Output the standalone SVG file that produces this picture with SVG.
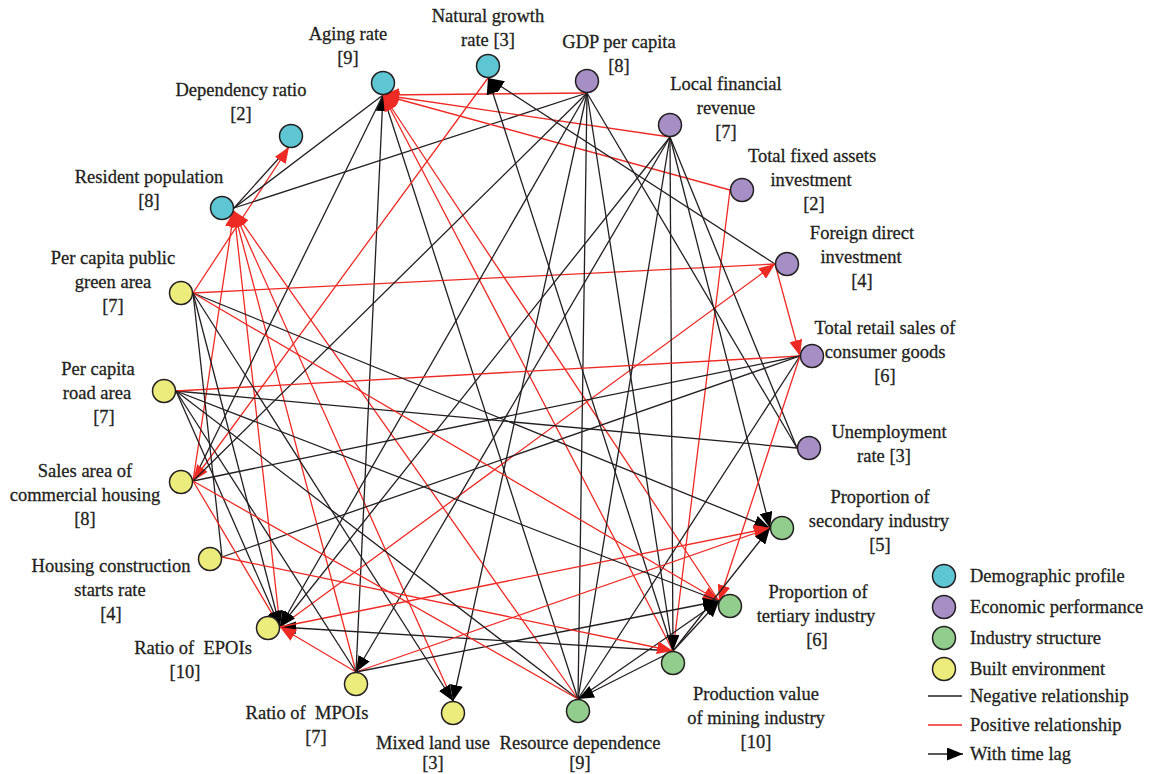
<svg xmlns="http://www.w3.org/2000/svg" width="1150" height="774" viewBox="0 0 1150 774">
  <style>
    .lbl { font-family: "Liberation Serif", "Times New Roman", serif; font-size: 18.5px; fill: #231f20; stroke: #231f20; stroke-width: 0.3; text-anchor: middle; white-space: pre; }
    .leg { font-family: "Liberation Serif", "Times New Roman", serif; font-size: 18.5px; fill: #231f20; stroke: #231f20; stroke-width: 0.3; }
    .neg { stroke: #231f20; stroke-width: 1.3; fill: none; }
    .pos { stroke: #ee2a24; stroke-width: 1.3; fill: none; }
    .nd { stroke: #231f20; stroke-width: 1.5; }
    .demo { fill: #5ec6d3; }
    .econ { fill: #a58fc5; }
    .ind { fill: #93cd8d; }
    .built { fill: #ecec7c; }
  </style>
  <defs>
    <marker id="ab" markerUnits="userSpaceOnUse" markerWidth="17" markerHeight="13" refX="16" refY="6.5" orient="auto">
      <path d="M0,0 L16,6.5 L0,13 Z" fill="#000"/>
    </marker>
    <marker id="ar" markerUnits="userSpaceOnUse" markerWidth="17" markerHeight="13" refX="16" refY="6.5" orient="auto">
      <path d="M0,0 L16,6.5 L0,13 Z" fill="#ee2a24"/>
    </marker>
  </defs>
  <rect width="1150" height="774" fill="#fff"/>

  <!-- connectors: black = negative, red = positive, arrowhead = time lag -->
  <g id="connectors">
    <line class="neg" x1="234" y1="208" x2="289" y2="147"/>
    <line class="pos" x1="193" y1="293" x2="289" y2="147" marker-end="url(#ar)"/>
    <line class="neg" x1="234" y1="208" x2="383" y2="95"/>
    <line class="neg" x1="234" y1="208" x2="587" y2="93"/>
    <line class="pos" x1="193" y1="481" x2="234" y2="211" marker-end="url(#ar)"/>
    <line class="pos" x1="280" y1="627" x2="234" y2="211" marker-end="url(#ar)"/>
    <line class="pos" x1="356" y1="672" x2="234" y2="211" marker-end="url(#ar)"/>
    <line class="pos" x1="453" y1="701" x2="234" y2="211" marker-end="url(#ar)"/>
    <line class="pos" x1="578" y1="699" x2="234" y2="211" marker-end="url(#ar)"/>
    <line class="pos" x1="587" y1="93" x2="383" y2="95" marker-end="url(#ar)"/>
    <line class="pos" x1="670" y1="137" x2="383" y2="95" marker-end="url(#ar)"/>
    <line class="pos" x1="730" y1="190" x2="383" y2="95" marker-end="url(#ar)"/>
    <line class="neg" x1="356" y1="672" x2="383" y2="95" marker-end="url(#ab)"/>
    <line class="neg" x1="383" y1="95" x2="193" y2="481"/>
    <line class="neg" x1="383" y1="95" x2="578" y2="699"/>
    <line class="pos" x1="719" y1="601" x2="383" y2="95" marker-end="url(#ar)"/>
    <line class="pos" x1="673" y1="651" x2="383" y2="95" marker-end="url(#ar)"/>
    <line class="pos" x1="730" y1="190" x2="673" y2="651"/>
    <line class="neg" x1="775" y1="264" x2="488" y2="78" marker-end="url(#ab)"/>
    <line class="pos" x1="193" y1="293" x2="775" y2="264"/>
    <line class="pos" x1="280" y1="627" x2="775" y2="264" marker-end="url(#ar)"/>
    <line class="pos" x1="775" y1="264" x2="800" y2="356" marker-end="url(#ar)"/>
    <line class="neg" x1="673" y1="651" x2="488" y2="78" marker-end="url(#ab)"/>
    <line class="pos" x1="488" y1="78" x2="193" y2="481" marker-end="url(#ar)"/>
    <line class="neg" x1="587" y1="93" x2="797" y2="448"/>
    <line class="neg" x1="670" y1="137" x2="797" y2="448"/>
    <line class="neg" x1="176" y1="391" x2="797" y2="448"/>
    <line class="neg" x1="587" y1="93" x2="193" y2="481"/>
    <line class="neg" x1="587" y1="93" x2="280" y2="627" marker-end="url(#ab)"/>
    <line class="neg" x1="587" y1="93" x2="453" y2="701" marker-end="url(#ab)"/>
    <line class="neg" x1="587" y1="93" x2="578" y2="699"/>
    <line class="neg" x1="587" y1="93" x2="673" y2="651"/>
    <line class="neg" x1="670" y1="137" x2="280" y2="627" marker-end="url(#ab)"/>
    <line class="neg" x1="670" y1="137" x2="356" y2="672" marker-end="url(#ab)"/>
    <line class="neg" x1="670" y1="137" x2="578" y2="699"/>
    <line class="neg" x1="670" y1="137" x2="673" y2="651" marker-end="url(#ab)"/>
    <line class="neg" x1="670" y1="137" x2="770" y2="528" marker-end="url(#ab)"/>
    <line class="pos" x1="176" y1="391" x2="800" y2="356"/>
    <line class="neg" x1="193" y1="481" x2="800" y2="356"/>
    <line class="neg" x1="222" y1="557" x2="800" y2="356"/>
    <line class="neg" x1="800" y1="356" x2="578" y2="699"/>
    <line class="pos" x1="800" y1="356" x2="719" y2="601" marker-end="url(#ar)"/>
    <line class="neg" x1="193" y1="293" x2="770" y2="528" marker-end="url(#ab)"/>
    <line class="pos" x1="193" y1="293" x2="719" y2="601" marker-end="url(#ar)"/>
    <line class="neg" x1="193" y1="293" x2="280" y2="627" marker-end="url(#ab)"/>
    <line class="neg" x1="193" y1="293" x2="222" y2="557"/>
    <line class="neg" x1="193" y1="293" x2="453" y2="701" marker-end="url(#ab)"/>
    <line class="pos" x1="193" y1="481" x2="280" y2="627"/>
    <line class="neg" x1="176" y1="391" x2="280" y2="627" marker-end="url(#ab)"/>
    <line class="neg" x1="673" y1="651" x2="280" y2="627" marker-end="url(#ab)"/>
    <line class="pos" x1="356" y1="672" x2="280" y2="627" marker-end="url(#ar)"/>
    <line class="pos" x1="280" y1="627" x2="770" y2="528" marker-end="url(#ar)"/>
    <line class="pos" x1="356" y1="672" x2="770" y2="528" marker-end="url(#ar)"/>
    <line class="neg" x1="673" y1="651" x2="770" y2="528" marker-end="url(#ab)"/>
    <line class="neg" x1="673" y1="651" x2="719" y2="601" marker-end="url(#ab)"/>
    <line class="neg" x1="356" y1="672" x2="719" y2="601" marker-end="url(#ab)"/>
    <line class="neg" x1="578" y1="699" x2="719" y2="601" marker-end="url(#ab)"/>
    <line class="neg" x1="673" y1="651" x2="578" y2="699" marker-end="url(#ab)"/>
    <line class="pos" x1="222" y1="557" x2="673" y2="651" marker-end="url(#ar)"/>
    <line class="neg" x1="176" y1="391" x2="356" y2="672"/>
    <line class="neg" x1="176" y1="391" x2="578" y2="699"/>
    <line class="pos" x1="193" y1="481" x2="578" y2="699"/>
    <line class="neg" x1="176" y1="391" x2="719" y2="601"/>
  </g>

  <!-- nodes -->
  <g id="n-aging"><circle class="nd demo" cx="383" cy="83" r="11.5"/><text class="lbl" x="348" y="40">Aging rate</text><text class="lbl" x="348" y="64">[9]</text></g>
  <g id="n-natural"><circle class="nd demo" cx="488" cy="66" r="11.5"/><text class="lbl" x="488" y="22">Natural growth</text><text class="lbl" x="488" y="46">rate [3]</text></g>
  <g id="n-gdp"><circle class="nd econ" cx="587" cy="81" r="11.5"/><text class="lbl" x="619" y="48">GDP per capita</text><text class="lbl" x="619" y="72">[8]</text></g>
  <g id="n-local"><circle class="nd econ" cx="670" cy="125" r="11.5"/><text class="lbl" x="726" y="90">Local financial</text><text class="lbl" x="726" y="114">revenue</text><text class="lbl" x="726" y="138">[7]</text></g>
  <g id="n-fixed"><circle class="nd econ" cx="742" cy="190" r="11.5"/><text class="lbl" x="812" y="162">Total fixed assets</text><text class="lbl" x="811" y="186">investment</text><text class="lbl" x="814" y="210">[2]</text></g>
  <g id="n-fdi"><circle class="nd econ" cx="787" cy="264" r="11.5"/><text class="lbl" x="862" y="239">Foreign direct</text><text class="lbl" x="861" y="263">investment</text><text class="lbl" x="862" y="287">[4]</text></g>
  <g id="n-retail"><circle class="nd econ" cx="812" cy="356" r="11.5"/><text class="lbl" x="885" y="334">Total retail sales of</text><text class="lbl" x="885" y="358">consumer goods</text><text class="lbl" x="885" y="382">[6]</text></g>
  <g id="n-unemp"><circle class="nd econ" cx="809" cy="448" r="11.5"/><text class="lbl" x="889" y="438">Unemployment</text><text class="lbl" x="884" y="462">rate [3]</text></g>
  <g id="n-second"><circle class="nd ind" cx="782" cy="528" r="11.5"/><text class="lbl" x="880" y="503">Proportion of</text><text class="lbl" x="879" y="527">secondary industry</text><text class="lbl" x="880" y="551">[5]</text></g>
  <g id="n-tertiary"><circle class="nd ind" cx="730" cy="606" r="11.5"/><text class="lbl" x="818" y="598">Proportion of</text><text class="lbl" x="816" y="622">tertiary industry</text><text class="lbl" x="817" y="646">[6]</text></g>
  <g id="n-mining"><circle class="nd ind" cx="673" cy="663" r="11.5"/><text class="lbl" x="756" y="700">Production value</text><text class="lbl" x="756" y="724">of mining industry</text><text class="lbl" x="756" y="748">[10]</text></g>
  <g id="n-resource"><circle class="nd ind" cx="578" cy="711" r="11.5"/><text class="lbl" x="580" y="749">Resource dependence</text><text class="lbl" x="580" y="769">[9]</text></g>
  <g id="n-mixed"><circle class="nd built" cx="453" cy="713" r="11.5"/><text class="lbl" x="433" y="749">Mixed land use</text><text class="lbl" x="433" y="769">[3]</text></g>
  <g id="n-mpoi"><circle class="nd built" cx="356" cy="684" r="11.5"/><text class="lbl" x="307" y="719">Ratio of  MPOIs</text><text class="lbl" x="316" y="743">[7]</text></g>
  <g id="n-epoi"><circle class="nd built" cx="268" cy="628" r="11.5"/><text class="lbl" x="193" y="654">Ratio of  EPOIs</text><text class="lbl" x="185" y="678">[10]</text></g>
  <g id="n-housing"><circle class="nd built" cx="210" cy="559" r="11.5"/><text class="lbl" x="111" y="572">Housing construction</text><text class="lbl" x="110" y="596">starts rate</text><text class="lbl" x="111" y="620">[4]</text></g>
  <g id="n-sales"><circle class="nd built" cx="181" cy="482" r="11.5"/><text class="lbl" x="85" y="477">Sales area of</text><text class="lbl" x="85" y="501">commercial housing</text><text class="lbl" x="85" y="525">[8]</text></g>
  <g id="n-road"><circle class="nd built" cx="164" cy="391" r="11.5"/><text class="lbl" x="98" y="375">Per capita</text><text class="lbl" x="97" y="399">road area</text><text class="lbl" x="104" y="423">[7]</text></g>
  <g id="n-green"><circle class="nd built" cx="181" cy="293" r="11.5"/><text class="lbl" x="113" y="264">Per capita public</text><text class="lbl" x="113" y="288">green area</text><text class="lbl" x="113" y="312">[7]</text></g>
  <g id="n-resident"><circle class="nd demo" cx="222" cy="208" r="11.5"/><text class="lbl" x="149" y="183">Resident population</text><text class="lbl" x="149" y="207">[8]</text></g>
  <g id="n-dependency"><circle class="nd demo" cx="291" cy="136" r="11.5"/><text class="lbl" x="241" y="96">Dependency ratio</text><text class="lbl" x="241" y="120">[2]</text></g>

  <!-- legend -->
  <g id="legend">
    <circle class="nd demo" cx="944" cy="576" r="11.5"/><text class="leg" x="970" y="582">Demographic profile</text>
    <circle class="nd econ" cx="944" cy="607" r="11.5"/><text class="leg" x="970" y="613">Economic performance</text>
    <circle class="nd ind" cx="944" cy="638" r="11.5"/><text class="leg" x="970" y="644">Industry structure</text>
    <circle class="nd built" cx="944" cy="669" r="11.5"/><text class="leg" x="970" y="675">Built environment</text>
    <line class="neg" x1="928" y1="696" x2="962" y2="696"/><text class="leg" x="970" y="702">Negative relationship</text>
    <line class="pos" x1="928" y1="725" x2="962" y2="725"/><text class="leg" x="970" y="731">Positive relationship</text>
    <line class="neg" x1="928" y1="754" x2="963" y2="754" marker-end="url(#ab)"/><text class="leg" x="970" y="760">With time lag</text>
  </g>
</svg>
